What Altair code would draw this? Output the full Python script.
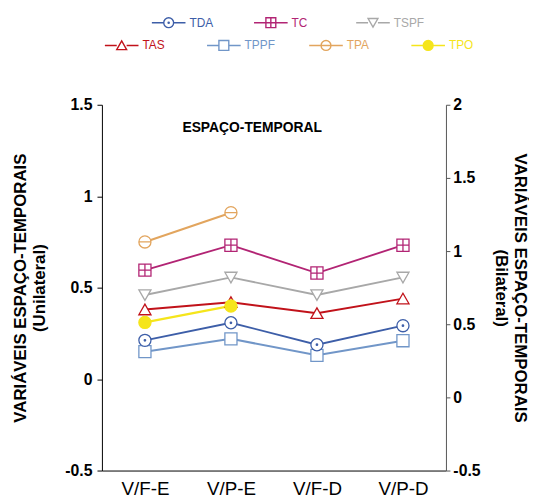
import altair as alt
import pandas as pd

# ---------------- dados ----------------
categorias = ["V/F-E", "V/P-E", "V/F-D", "V/P-D"]

# Bilateral (eixo direito)
TDA = [0.39, 0.51, 0.36, 0.49]
TC = [0.87, 1.04, 0.85, 1.04]
TSPF = [0.70, 0.82, 0.70, 0.82]

# Unilateral (eixo esquerdo)
TAS = [0.38, 0.42, 0.36, 0.44]
TPPF = [0.15, 0.22, 0.13, 0.21]
TPA = [0.75, 0.91]
TPO = [0.31, 0.40]

series_bi = ["TDA", "TC", "TSPF"]
series_uni = ["TAS", "TPPF", "TPA", "TPO"]
todas = series_bi + series_uni
valores = {"TDA": TDA, "TC": TC, "TSPF": TSPF,
           "TAS": TAS, "TPPF": TPPF, "TPA": TPA, "TPO": TPO}

cores = {"TDA": "#3d5ea8", "TC": "#b22474", "TSPF": "#a8a8a8",
         "TAS": "#c1121a", "TPPF": "#7196c8", "TPA": "#e2a55e", "TPO": "#f5e51b"}
larguras = {"TDA": 1.8, "TC": 2.2, "TSPF": 1.5,
            "TAS": 2.2, "TPPF": 1.6, "TPA": 1.2, "TPO": 3.5}
preench = {"TDA": "#ffffff", "TC": "#ffffff", "TSPF": "#ffffff",
           "TAS": "#ffffff", "TPPF": "#ffffff", "TPA": "#ffffff", "TPO": "#f5e51b"}

CIRC = "M-1,0A1,1,0,1,0,1,0A1,1,0,1,0,-1,0Z"
formas = {
    "TDA": CIRC + "M-0.12,0A0.12,0.12,0,1,0,0.12,0A0.12,0.12,0,1,0,-0.12,0Z",
    "TC": "M-1,-1H1V1H-1Z M0,-1V1 M-1,0H1",
    "TSPF": "M-1,-0.85L1,-0.85L0,0.9Z",
    "TAS": "M-1,0.85L1,0.85L0,-0.9Z",
    "TPPF": "M-1,-1H1V1H-1Z",
    "TPA": CIRC + "M-1,0H1",
    "TPO": CIRC,
}
STUB = "M-3.4,0H-1M1,0H3.4"
formas_leg = {k: STUB + v for k, v in formas.items()}

FONT = "Liberation Sans"


def escala(mapa):
    return alt.Scale(domain=todas, range=[mapa[s] for s in todas])


def tabela(series):
    linhas = []
    for s in series:
        for c, v in zip(categorias, valores[s]):
            linhas.append({"cat": c, "serie": s, "valor": v})
    return pd.DataFrame(linhas)


x_enc = alt.X(
    "cat:N", sort=categorias,
    scale=alt.Scale(domain=categorias, padding=0.5),
    axis=alt.Axis(title=None, labelAngle=0, ticks=False, domainColor="#000000",
                  labelFontSize=19, labelFont=FONT, labelColor="#000000",
                  labelPadding=9, grid=False),
)
cor_enc = alt.Color("serie:N", scale=escala(cores), legend=None)


def grupo(series, dominio, eixo):
    df = tabela(series)
    y_enc = alt.Y("valor:Q", scale=alt.Scale(domain=dominio, nice=False, zero=False),
                  axis=eixo)
    linhas = alt.Chart(df).mark_line().encode(
        x=x_enc, y=y_enc, color=cor_enc,
        strokeWidth=alt.StrokeWidth("serie:N", scale=escala(larguras), legend=None),
    )
    pontos = alt.Chart(df).mark_point(opacity=1, strokeWidth=1.3, size=150).encode(
        x=x_enc, y=y_enc, color=cor_enc,
        shape=alt.Shape("serie:N", scale=escala(formas), legend=None),
        fill=alt.Fill("serie:N", scale=escala(preench), legend=None),
    )
    return alt.layer(linhas, pontos)


eixo_esq = alt.Axis(
    orient="left", values=[-0.5, 0, 0.5, 1, 1.5], labelExpr="toString(datum.value)",
    title=["VARIÁVEIS ESPAÇO-TEMPORAIS", "(Unilateral)"],
    titleFont=FONT, titleFontSize=17, titleFontWeight="bold", titleColor="#000000",
    titlePadding=17, titleLineHeight=19,
    labelFont=FONT, labelFontSize=16, labelFontWeight="bold", labelColor="#000000",
    labelPadding=5, tickSize=5, tickColor="#000000", domainColor="#000000", grid=False,
)
eixo_dir = alt.Axis(
    orient="right", values=[-0.5, 0, 0.5, 1, 1.5, 2], labelExpr="toString(datum.value)",
    title=["VARIÁVEIS ESPAÇO-TEMPORAIS", "(Bilateral)"],
    titleFont=FONT, titleFontSize=17, titleFontWeight="bold", titleColor="#000000",
    titlePadding=12, titleLineHeight=19,
    labelFont=FONT, labelFontSize=16, labelFontWeight="bold", labelColor="#000000",
    labelPadding=3, tickSize=4, tickColor="#555555", domainColor="#555555", grid=False,
)

uni = grupo(series_uni, [-0.5, 1.5], eixo_esq)
bi = grupo(series_bi, [-0.5, 2], eixo_dir)
principal = alt.layer(uni, bi).resolve_scale(y="independent")

# ---------------- legenda (duas linhas) ----------------
leg_rows = []
for linha, grupo_series in enumerate([series_bi, series_uni]):
    for col, s in enumerate(grupo_series):
        leg_rows.append({"serie": s, "linha": linha, "col": col})
leg_df = pd.DataFrame(leg_rows)

leg_base = alt.Chart(leg_df).transform_calculate(
    pos="datum.col + (datum.linha == 0 ? 0.46 : 0)"
).encode(
    x=alt.X("pos:Q", scale=alt.Scale(domain=[0, 3], range=[20, 330]), axis=None),
    y=alt.Y("linha:Q", scale=alt.Scale(domain=[0, 1], range=[-83, -60]), axis=None),
)
leg_pts = leg_base.mark_point(opacity=1, size=100, strokeWidth=1.4).encode(
    color=cor_enc,
    shape=alt.Shape("serie:N", scale=escala(formas_leg), legend=None),
    fill=alt.Fill("serie:N", scale=escala(preench), legend=None),
)
leg_txt = leg_base.mark_text(align="left", baseline="middle", dx=21, fontSize=12,
                             font=FONT).encode(
    text="serie:N", color=cor_enc,
)
legenda = alt.layer(leg_pts, leg_txt)

chart = alt.layer(principal, legenda).resolve_scale(
    x="independent", y="independent", shape="independent",
).properties(
    width=348, height=370,
    padding={"left": 95, "top": 95, "right": 84, "bottom": 34},
    autosize=alt.AutoSizeParams(type="none"),
    title=alt.TitleParams("ESPAÇO-TEMPORAL", font=FONT, fontSize=14, fontWeight="bold",
                          color="#000000", anchor="middle", frame="group",
                          baseline="alphabetic", offset=0, dx=-22, dy=132),
).configure_view(stroke=None)

chart.save("out.html", embed_options={"renderer": "svg", "actions": False})
